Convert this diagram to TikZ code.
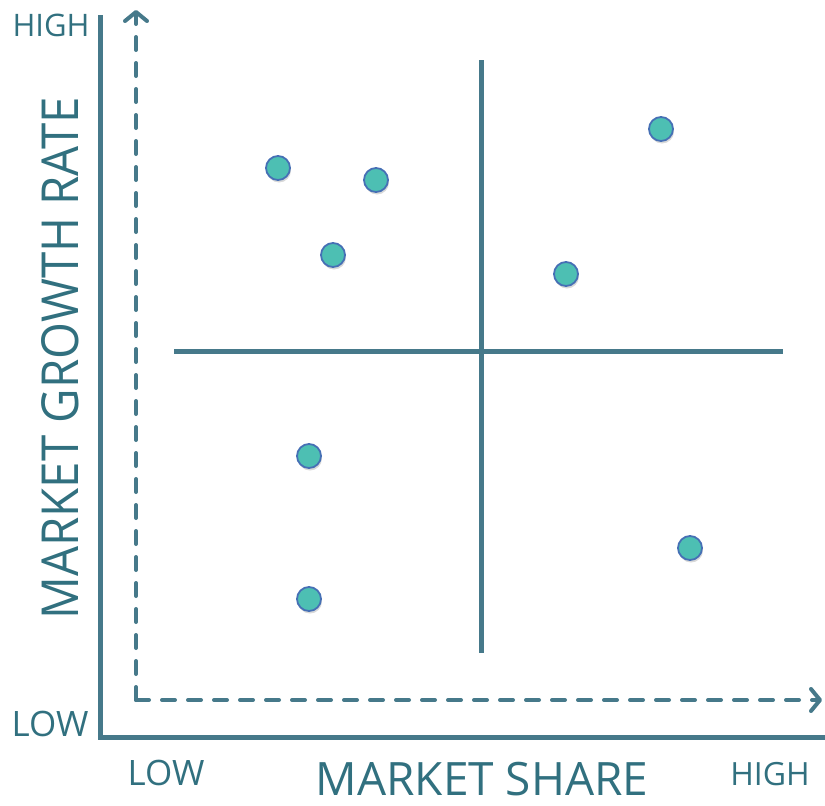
\documentclass[tikz,border=0pt]{standalone}
\usepackage{fontspec}
\setmainfont{Open Sans}
\newfontfamily\narrowfont[FakeStretch=0.93]{Open Sans}
\usepackage{tikz}
\usetikzlibrary{arrows.meta,shadows}
\definecolor{axisblue}{HTML}{46798A}
\definecolor{labelblue}{HTML}{31707F}
\definecolor{dotfill}{HTML}{4DBFB3}
\definecolor{dotline}{HTML}{4670B5}
\tikzset{
	dot/.style={circle,minimum size=24pt,inner sep=0pt,fill=dotfill,draw=dotline,line width=1.8pt,
		drop shadow={opacity=0.3,shadow xshift=1pt,shadow yshift=-2.5pt}},
	lbl/.style={text=labelblue,inner sep=0pt,anchor=base,text depth=0pt},
}

\begin{document}
\begin{tikzpicture}[x=1pt,y=-1pt]
		\useasboundingbox (0,0) rectangle (825,806);
		% axes
		\coordinate (O) at (100,737);
		\coordinate (Ytop) at (100,15);
		\coordinate (Xend) at (825,737);
		\coordinate (C) at (136,700);
		\coordinate (Ytip) at (136,10);
		\coordinate (Xtip) at (822,700);
		\draw[axisblue,line width=5pt] (Ytop) -- (O) -- (Xend);
		\draw[axisblue,line width=4pt,line cap=round,dash pattern=on 13pt off 13pt,
		>={Straight Barb[round,length=9pt,width=22pt]}]
		(C) edge[->] (Ytip)
		(C) edge[->] (Xtip);
		%
		\coordinate (T) at (481,60);
		\coordinate (B) at (481,653);
		\coordinate (L) at (174,351);
		\coordinate (R) at (783,351);
		\path[axisblue,line width=5pt]
		(T) edge (B)
		(L) edge (R);
		% labels
		\node[lbl,font=\fontsize{31}{31}\selectfont] (yhigh) at (51,36) {HIGH};
		\node[lbl,font=\fontsize{35}{35}\selectfont] (ylow) at (50,736) {LOW};
		\node[lbl,font=\fontsize{35}{35}\selectfont] (xlow) at (166,785) {LOW};
		\node[lbl,font=\fontsize{32}{32}\selectfont] (xhigh) at (770,785) {HIGH};
		\node[lbl,font=\fontsize{46}{46}\selectfont] (xname) at (482,795) {MARKET SHARE};
		\node[lbl,font=\narrowfont\fontsize{51}{51}\selectfont,rotate=90] (yname) at (78,358) {MARKET GROWTH RATE};
		% products
		\node[dot] (p1) at (278,168) {};
		\node[dot] (p2) at (376,180) {};
		\node[dot] (p3) at (333,255) {};
		\node[dot] (p4) at (661,129) {};
		\node[dot] (p5) at (566,274) {};
		\node[dot] (p6) at (309,456) {};
		\node[dot] (p7) at (309,599) {};
		\node[dot] (p8) at (690,548) {};
	\end{tikzpicture}
\end{document}
